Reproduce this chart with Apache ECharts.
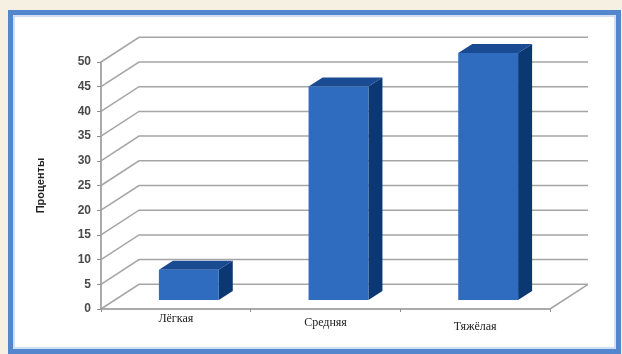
<!DOCTYPE html>
<html>
<head>
<meta charset="utf-8">
<script src="https://cdn.jsdelivr.net/npm/echarts@6/dist/echarts.min.js"></script>
<style>
  html, body { margin: 0; padding: 0; background: #f6f0e2; }
  #chart { width: 622px; height: 354px; }
</style>
</head>
<body>
<div id="chart"></div>
<script>
// Severity categories and their share, in percent
const categories = ['Лёгкая', 'Средняя', 'Тяжёлая'];
const percentValues = [6.1, 43.2, 50];
// Value-axis ticks (also used for the back-wall grid lines)
const yTicks = [0, 5, 10, 15, 20, 25, 30, 35, 40, 45, 50];

const WALL_DX = 38;          // horizontal depth of the floor / side wall
const BAR_OFFSET_X = 13;     // bars stand a little behind the front edge
const BAR_OFFSET_Y = -9;
const BAR_DEPTH_X = 14;      // thickness of each column
const BAR_DEPTH_Y = -9;

function renderWall(params, api) {
  const v = api.value(1);
  const cs = params.coordSys;
  const y = api.coord([0, v])[1];
  const dy = -api.size([0, 5])[1];
  const left = cs.x, right = cs.x + cs.width;
  const lineStyle = { stroke: '#a5a5a5', lineWidth: 1.5, fill: null };
  const children = [{
    type: 'polyline',
    shape: { points: [[left, y], [left + WALL_DX, y + dy], [right + WALL_DX, y + dy]] },
    style: lineStyle
  }];
  if (v === 0) {
    children.push({
      type: 'line',
      shape: { x1: right, y1: y, x2: right + WALL_DX, y2: y + dy },
      style: lineStyle
    });
  }
  return { type: 'group', children };
}

function renderBar(params, api) {
  const i = api.value(0), v = api.value(1);
  const base = api.coord([i, 0]);
  const top = api.coord([i, v]);
  const w = api.size([1, 0])[0] * 0.4;
  const x0 = base[0] - w / 2 + BAR_OFFSET_X, x1 = x0 + w;
  const yb = base[1] + BAR_OFFSET_Y, yt = top[1] + BAR_OFFSET_Y;
  const dx = BAR_DEPTH_X, dy = BAR_DEPTH_Y;
  return {
    type: 'group',
    children: [
      { type: 'polygon',
        shape: { points: [[x1, yt], [x1 + dx, yt + dy], [x1 + dx, yb + dy], [x1, yb]] },
        style: { fill: '#0b3773' } },
      { type: 'polygon',
        shape: { points: [[x0, yt], [x0 + dx, yt + dy], [x1 + dx, yt + dy], [x1, yt]] },
        style: { fill: '#1a4a92' } },
      { type: 'rect',
        shape: { x: x0, y: yt, width: w, height: yb - yt },
        style: { fill: '#2f6cbf' } }
    ]
  };
}

const chart = echarts.init(document.getElementById('chart'), null, { renderer: 'canvas' });
chart.setOption({
  animation: false,
  backgroundColor: 'transparent',
  graphic: [
    { type: 'rect', z: -10, silent: true,
      shape: { x: 10.5, y: 12.5, width: 608, height: 339 },
      style: { fill: '#ffffff', stroke: '#5386cc', lineWidth: 5 } },
    { type: 'rect', z: -9, silent: true,
      shape: { x: 14, y: 16, width: 601, height: 332 },
      style: { fill: null, stroke: '#c3d4ee', lineWidth: 1.5 } }
  ],
  grid: { left: 101, right: 72, top: 62, bottom: 45 },
  xAxis: {
    type: 'category',
    data: categories,
    axisLine: { show: true, lineStyle: { color: '#8f8f8f', width: 1.5 } },
    axisTick: { show: true, length: 3, lineStyle: { color: '#8f8f8f' } },
    axisLabel: {
      margin: 4,
      fontFamily: 'Liberation Serif',
      fontSize: 12,
      color: '#222',
      formatter: (val, idx) => '{s' + idx + '|' + val + '}',
      rich: {
        s0: { padding: [0, 0, 0, 0], fontFamily: 'Liberation Serif', fontSize: 12, color: '#222' },
        s1: { padding: [4, 0, 0, 0], fontFamily: 'Liberation Serif', fontSize: 12, color: '#222' },
        s2: { padding: [8, 0, 0, 0], fontFamily: 'Liberation Serif', fontSize: 12, color: '#222' }
      }
    },
    splitLine: { show: false }
  },
  yAxis: {
    type: 'value',
    min: 0, max: 50, interval: 5,
    name: 'Проценты',
    nameLocation: 'middle',
    nameRotate: 90,
    nameGap: 55,
    nameTextStyle: { fontFamily: 'Liberation Sans', fontWeight: 'bold', fontSize: 11, color: '#222' },
    axisLine: { show: true, lineStyle: { color: '#8f8f8f', width: 1.5 } },
    axisTick: { show: true, length: 4, lineStyle: { color: '#8f8f8f' } },
    axisLabel: {
      margin: 10,
      fontFamily: 'Liberation Sans', fontWeight: 'bold', fontSize: 12, color: '#4a4a4a'
    },
    splitLine: { show: false }
  },
  series: [
    {
      type: 'custom',
      z: 1,
      renderItem: renderWall,
      encode: { x: 0, y: 1 },
      data: yTicks.map(v => [0, v]),
      silent: true
    },
    {
      type: 'custom',
      z: 3,
      renderItem: renderBar,
      encode: { x: 0, y: 1 },
      data: percentValues.map((v, i) => [i, v])
    }
  ]
});
</script>
</body>
</html>
